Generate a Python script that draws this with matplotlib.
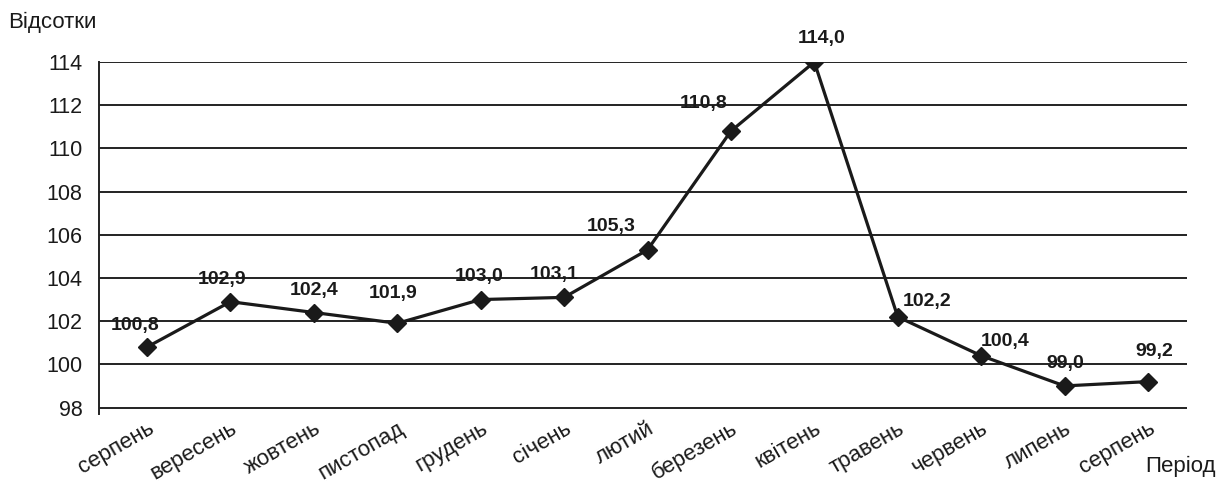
import matplotlib
matplotlib.use("Agg")
import matplotlib.pyplot as plt

months = ["серпень", "вересень", "жовтень", "пистопад", "грудень", "січень", "лютий",
          "березень", "квітень", "травень", "червень", "липень", "серпень"]
values = [100.8, 102.9, 102.4, 101.9, 103.0, 103.1, 105.3, 110.8, 114.0, 102.2, 100.4, 99.0, 99.2]
labels = ["100,8", "102,9", "102,4", "101,9", "103,0", "103,1", "105,3",
          "110,8", "114,0", "102,2", "100,4", "99,0", "99,2"]
y_ticks = [98, 100, 102, 104, 106, 108, 110, 112, 114]

# label offsets in pixels (styling)
label_dx = [-12, -8, 0, -4, -2, -10, -36, -27, 7, 29, 24, 1, 6]
label_dy = [22, 22, 22, 30, 23, 23, 23, 28, 24, 15, 14, 22, 30]

plt.rcParams['font.family'] = ['Liberation Sans', 'DejaVu Sans']
W, H = 1220, 484
fig = plt.figure(figsize=(W / 100, H / 100), dpi=100)
left, right, top = 99, 1187, 62
bottom = 414
ax = fig.add_axes([left / W, 1 - bottom / H, (right - left) / W, (bottom - top) / H])

x = list(range(len(values)))
ax.plot(x, values, color='#1a1a1a', lw=2.3, marker='D', markersize=9, zorder=3)

for xi, v, lab, dx, dy in zip(x, values, labels, label_dx, label_dy):
    ax.annotate(lab, (xi, v), xytext=(dx * 0.72, dy * 0.72), textcoords='offset points',
                ha='center', va='center', fontsize=14, fontweight='bold', color='#1a1a1a', zorder=4)

ax.set_ylim(97.7, 114)
ax.set_xlim(-0.576, 12.468)
ax.set_yticks(y_ticks)
ax.set_yticklabels([str(t) for t in y_ticks], fontsize=15.5, color='#1a1a1a')
for t in y_ticks:
    ax.axhline(t, color='#222222', lw=1.4, zorder=1)

ax.set_xticks(x)
ax.set_xticklabels(months, rotation=30, ha='right', rotation_mode='anchor', fontsize=16, color='#1a1a1a')
ax.tick_params(axis='x', length=0, pad=3)
ax.tick_params(axis='y', length=0, pad=12)
for s in ['top', 'right', 'bottom']:
    ax.spines[s].set_visible(False)
ax.spines['left'].set_color('#222222')
ax.spines['left'].set_linewidth(1.4)

fig.text(8 / W, 1 - 22 / H, "Відсотки", fontsize=16, va='center', ha='left', color='#1a1a1a')
fig.text(1216 / W, 1 - 466 / H, "Період", fontsize=16, va='center', ha='right', color='#1a1a1a')

fig.savefig("out.png", dpi=100)
